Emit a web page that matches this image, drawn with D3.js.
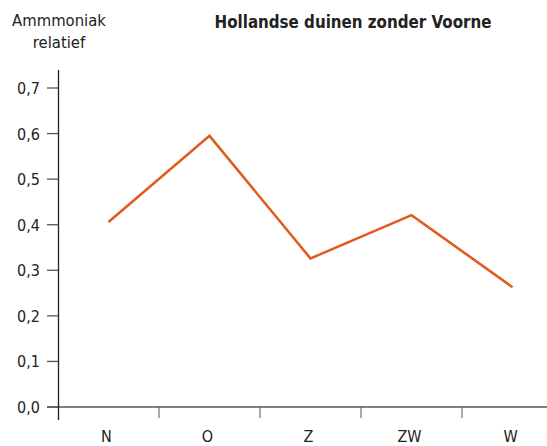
<!DOCTYPE html>
<html>
<head>
<meta charset="utf-8">
<script src="https://cdn.jsdelivr.net/npm/d3@7"></script>
<style>
  body { margin: 0; background: #fff; }
  text { font-family: "DejaVu Sans Condensed", "DejaVu Sans", sans-serif; fill: #222; }
</style>
</head>
<body>
<figure id="chart" style="margin:0"></figure>
<script>
const categories = ["N", "O", "Z", "ZW", "W"];
const values = [0.406, 0.595, 0.326, 0.421, 0.263];
const yTicks = [0, 0.1, 0.2, 0.3, 0.4, 0.5, 0.6, 0.7];
const title = "Hollandse duinen zonder Voorne";
const yTitle = ["Ammmoniak", "relatief"];

const width = 547, height = 446;

const svg = d3.select("#chart")
  .append("svg")
  .attr("width", width)
  .attr("height", height)
  .style("display", "block");

const x = d3.scaleBand()
  .domain(categories)
  .range([58, 563]);

const y = d3.scaleLinear()
  .domain([0, 0.7])
  .range([407, 88]);

// x axis line + category boundary ticks
svg.append("line")
  .attr("x1", 47).attr("x2", width)
  .attr("y1", y(0)).attr("y2", y(0))
  .attr("stroke", "#555").attr("stroke-width", 1.3);

svg.selectAll(".xtick")
  .data(categories.slice(1))
  .enter()
  .append("line")
  .attr("x1", d => x(d)).attr("x2", d => x(d))
  .attr("y1", y(0)).attr("y2", y(0) + 11)
  .attr("stroke", "#555").attr("stroke-width", 1);

svg.selectAll(".xlabel")
  .data(categories)
  .enter()
  .append("text")
  .attr("x", d => x(d) + x.bandwidth() / 2 - 2)
  .attr("y", 442)
  .attr("text-anchor", "middle")
  .attr("font-size", 16)
  .text(d => d);

// y axis
svg.append("line")
  .attr("x1", 58.5).attr("x2", 58.5)
  .attr("y1", 70).attr("y2", 420)
  .attr("stroke", "#222").attr("stroke-width", 1.3);

svg.selectAll(".ytick")
  .data(yTicks)
  .enter()
  .append("line")
  .attr("x1", 47).attr("x2", 58)
  .attr("y1", d => y(d)).attr("y2", d => y(d))
  .attr("stroke", "#555").attr("stroke-width", 1.3);

svg.selectAll(".ylabel")
  .data(yTicks)
  .enter()
  .append("text")
  .attr("x", 40)
  .attr("y", d => y(d) + 6)
  .attr("text-anchor", "end")
  .attr("font-size", 16)
  .text(d => d.toFixed(1).replace(".", ","));

// line
const line = d3.line()
  .x((d, i) => x(categories[i]) + x.bandwidth() / 2)
  .y(d => y(d));

svg.append("path")
  .datum(values)
  .attr("d", line)
  .attr("fill", "none")
  .attr("stroke", "#e05a1c")
  .attr("stroke-width", 2.5);

// titles
svg.selectAll(".ytitle")
  .data(yTitle)
  .enter()
  .append("text")
  .attr("x", 59)
  .attr("y", (d, i) => 26 + i * 22)
  .attr("text-anchor", "middle")
  .attr("font-size", 16.5)
  .text(d => d);

svg.append("text")
  .attr("x", 353)
  .attr("y", 28)
  .attr("text-anchor", "middle")
  .attr("font-size", 16.8)
  .attr("font-weight", "bold")
  .text(title);
</script>
</body>
</html>
